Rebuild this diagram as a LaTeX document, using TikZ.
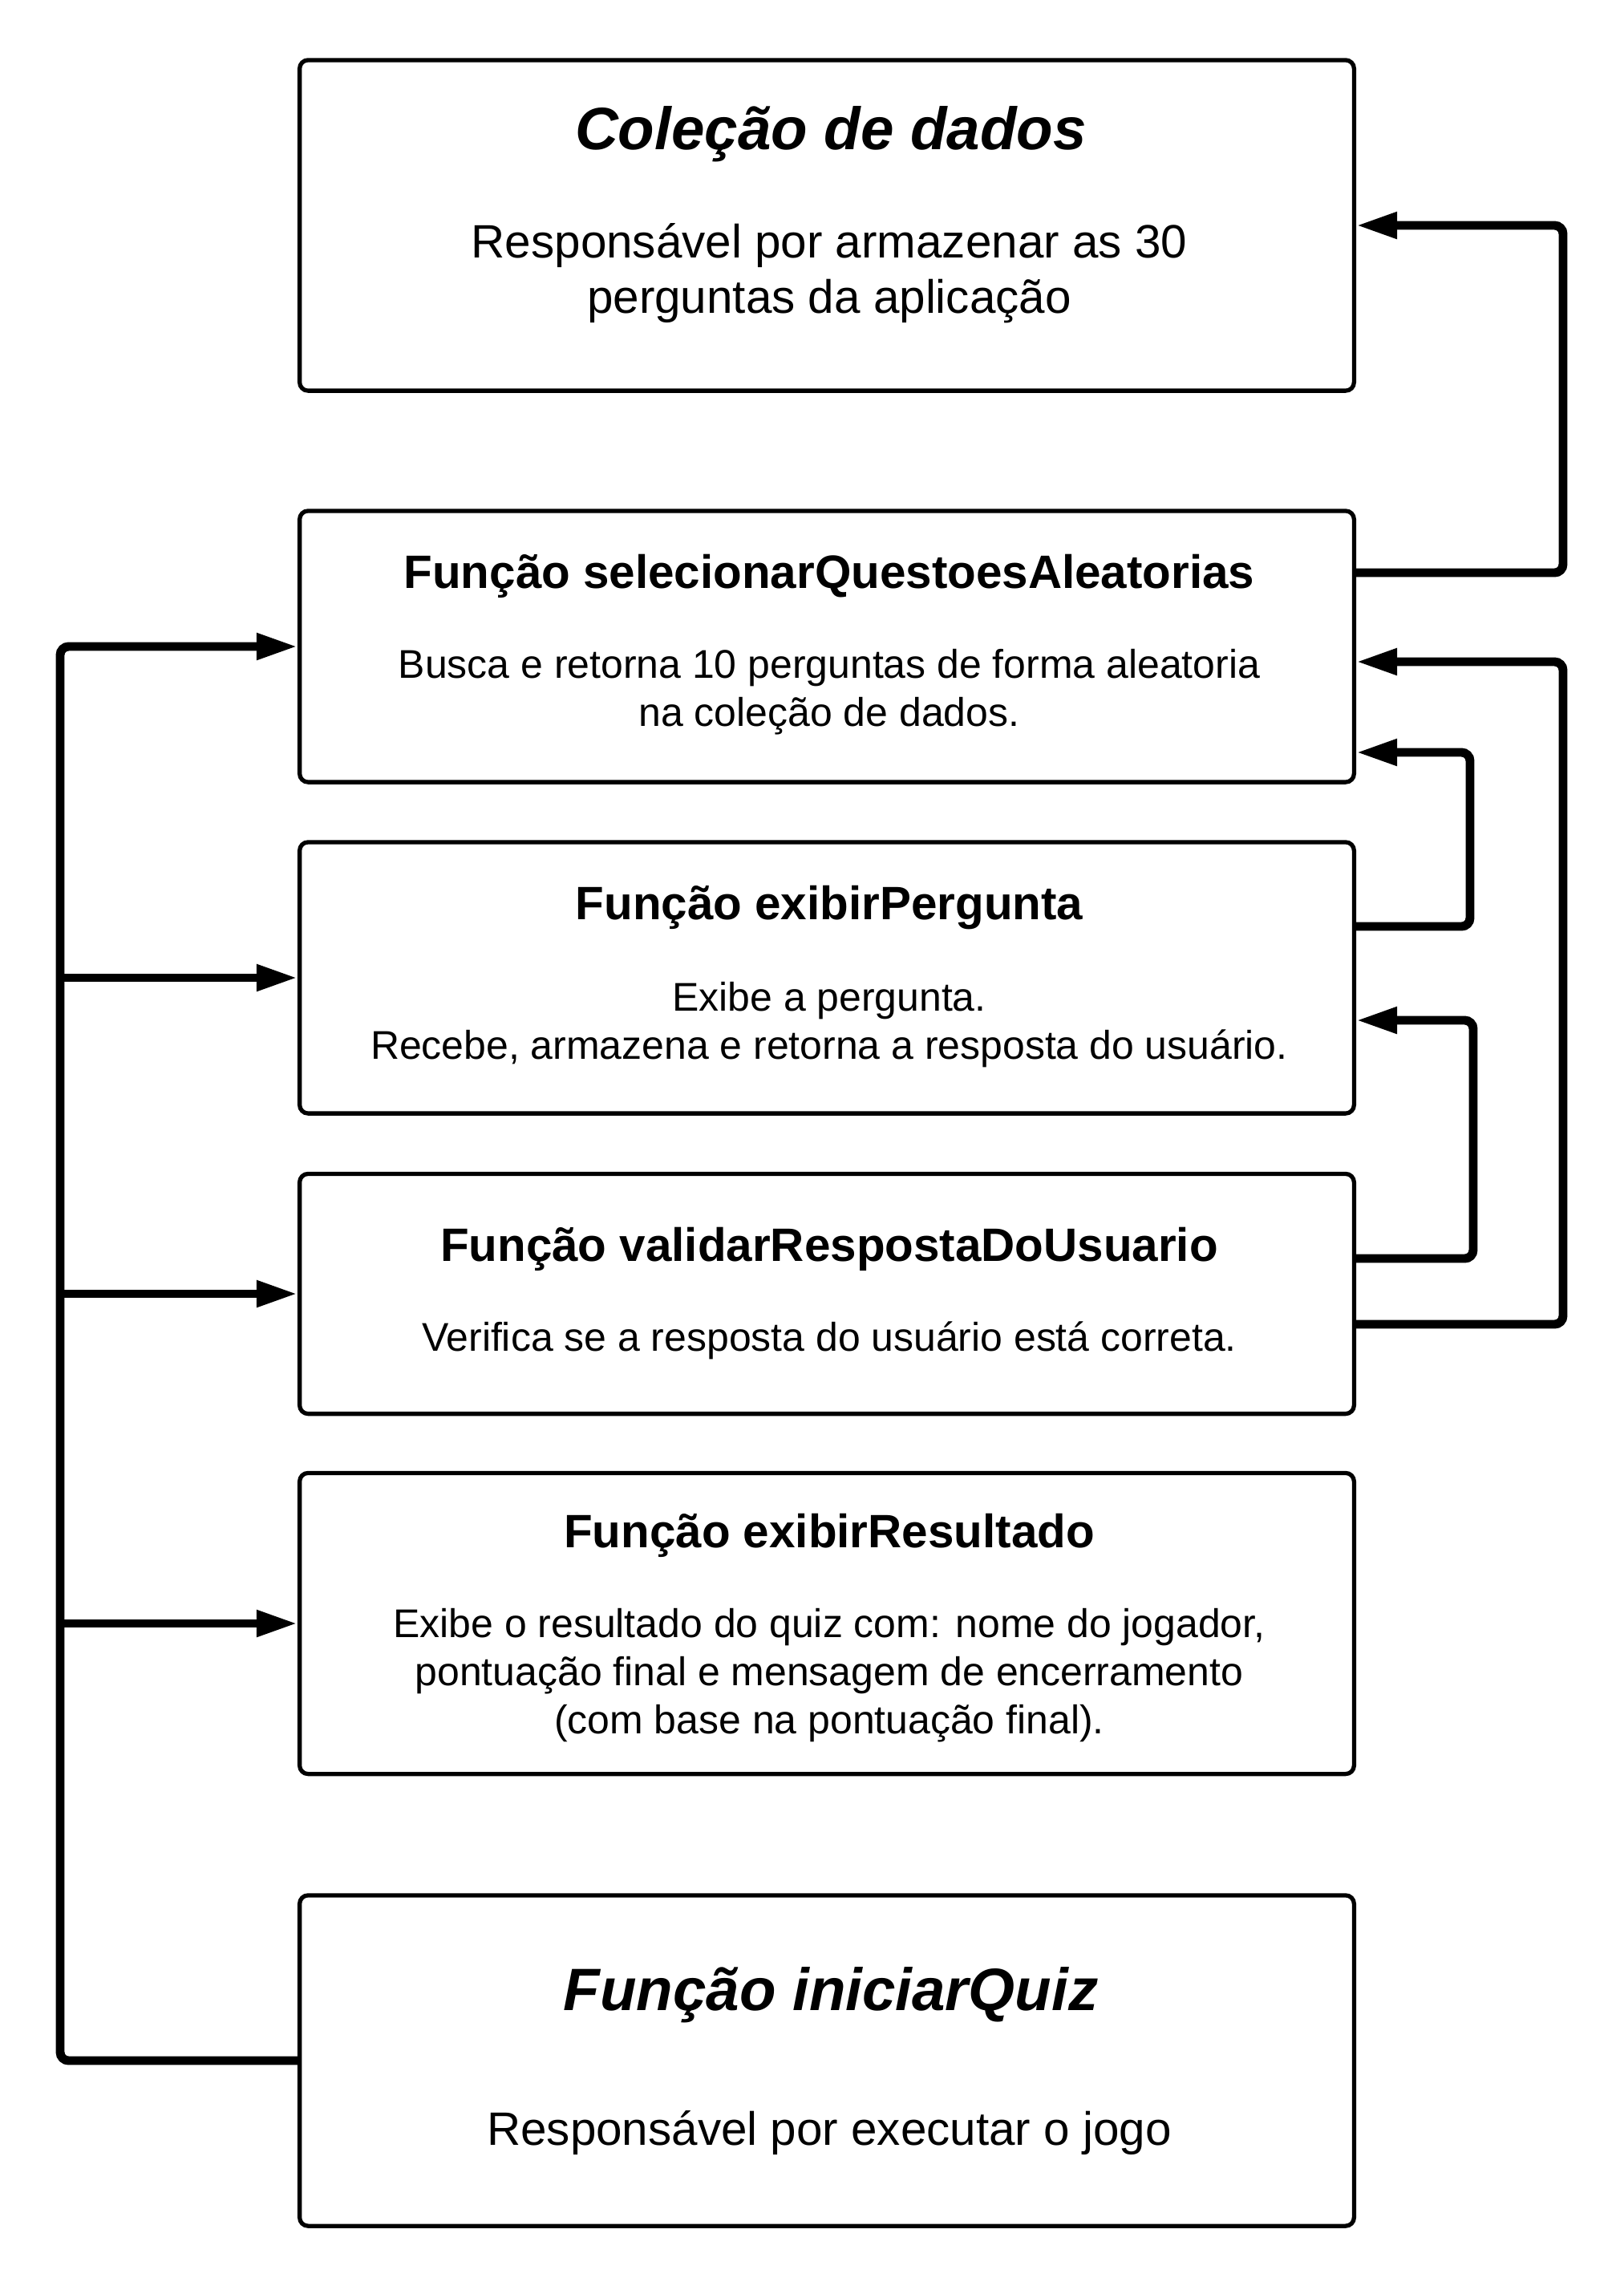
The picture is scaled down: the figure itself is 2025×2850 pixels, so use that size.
\documentclass[tikz,border=0pt]{standalone}
\usepackage{fontspec}
\setmainfont{Liberation Sans}
\usetikzlibrary{arrows.meta}
\begin{document}
\begin{tikzpicture}[x=0.01cm,y=-0.01cm,
  box/.style={draw,line width=1.5pt,rounded corners=3pt,minimum width=13.14cm,inner sep=0pt},
  bigtitle/.style={anchor=base,font=\fontsize{21.2}{25}\selectfont\bfseries\itshape,inner sep=0pt},
  ftitle/.style={anchor=base,font=\fontsize{16.6}{20}\selectfont\bfseries,inner sep=0pt},
  bigbody/.style={anchor=base,font=\fontsize{16.6}{20}\selectfont,inner sep=0pt},
  fbody/.style={anchor=base,font=\fontsize{14.2}{17}\selectfont,inner sep=0pt},
  conn/.style={line width=3.1pt,rounded corners=3pt},
  arr/.style={conn,-{Triangle[length=14.5pt,width=8.8pt]}}]
\useasboundingbox (0,0) rectangle (2025,2850);

% boxes
\node[box,minimum height=4.12cm] (b1) at (1031,281) {};
\node[box,minimum height=3.38cm] (b2) at (1031,806) {};
\node[box,minimum height=3.38cm] (b3) at (1031,1219) {};
\node[box,minimum height=2.99cm] (b4) at (1031,1613) {};
\node[box,minimum height=3.75cm] (b5) at (1031,2024) {};
\node[box,minimum height=4.12cm] (b6) at (1031,2569) {};

% texts
\node[bigtitle] (t1) at (1036,186) {Coleção de dados};
\node[bigbody] (t1a) at (1034,321) {Responsável por armazenar as 30};
\node[bigbody] (t1b) at (1034,390) {perguntas da aplicação};

\node[ftitle] (t2) at (1034,733) {Função selecionarQuestoesAleatorias};
\node[fbody] (t2a) at (1034,845) {Busca e retorna 10 perguntas de forma aleatoria};
\node[fbody] (t2b) at (1034,905) {na coleção de dados.};

\node[ftitle] (t3) at (1034,1146) {Função exibirPergunta};
\node[fbody] (t3a) at (1034,1260) {Exibe a pergunta.};
\node[fbody] (t3b) at (1034,1320) {Recebe, armazena e retorna a resposta do usuário.};

\node[ftitle] (t4) at (1034,1572) {Função validarRespostaDoUsuario};
\node[fbody] (t4a) at (1034,1684) {Verifica se a resposta do usuário está correta.};

\node[ftitle] (t5) at (1034,1929) {Função exibirResultado};
\node[fbody] (t5a) at (1034,2041) {Exibe o resultado do quiz com: nome do jogador,};
\node[fbody] (t5b) at (1034,2101) {pontuação final e mensagem de encerramento};
\node[fbody] (t5c) at (1034,2161) {(com base na pontuação final).};

\node[bigtitle] (t6) at (1036,2506) {Função iniciarQuiz};
\node[bigbody] (t6a) at (1034,2674) {Responsável por executar o jogo};

% right-side connectors
\coordinate (rbus) at (1949,0);
\coordinate (ibus1) at (1833,0);
\coordinate (ibus2) at (1837,0);
\draw[arr] (b2.east |- 0,714) -- (rbus |- 0,714) -- (rbus |- b1.east) -- (b1.east);
\draw[arr] (b3.east |- 0,1155) -- (ibus1 |- 0,1155) -- (ibus1 |- 0,938) -- (b2.east |- 0,938);
\draw[arr] (b4.east |- 0,1569) -- (ibus2 |- 0,1569) -- (ibus2 |- 0,1272) -- (b3.east |- 0,1272);
\draw[arr] (b4.east |- 0,1651) -- (rbus |- 0,1651) -- (rbus |- 0,825) -- (b2.east |- 0,825);

% left bus
\coordinate (lbus) at (75,0);
\draw[arr] (b6.west) -- (lbus |- b6.west) -- (lbus |- b2.west) -- (b2.west);
\draw[arr] (lbus |- b3.west) -- (b3.west);
\draw[arr] (lbus |- b4.west) -- (b4.west);
\draw[arr] (lbus |- b5.west) -- (b5.west);
\end{tikzpicture}
\end{document}
